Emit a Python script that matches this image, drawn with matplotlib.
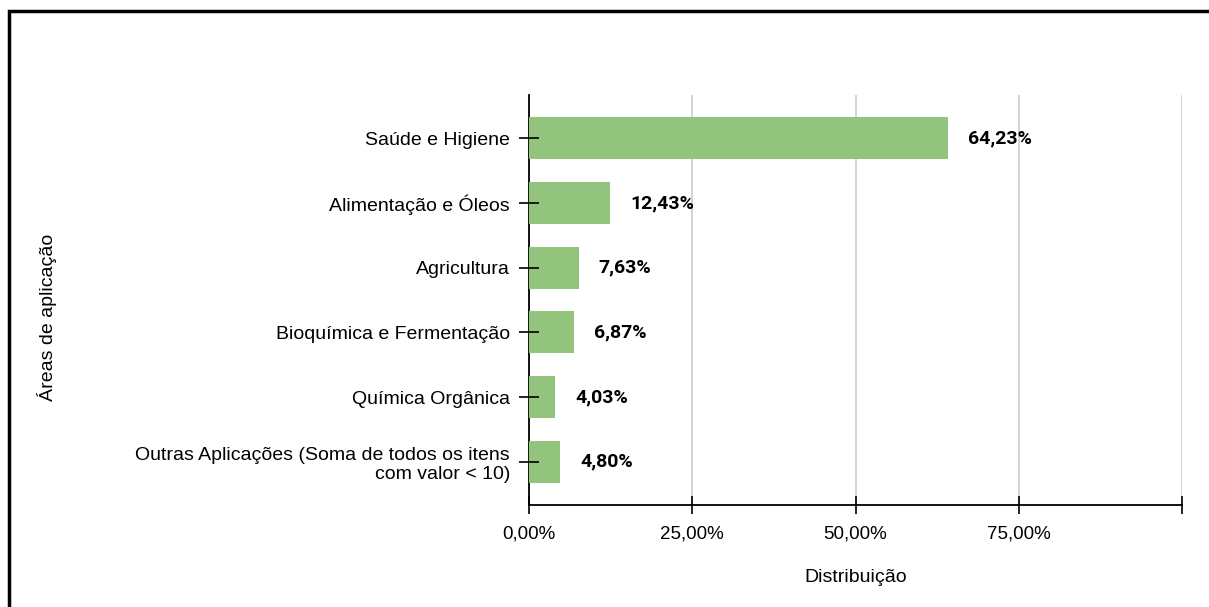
import matplotlib
matplotlib.use("Agg")
import matplotlib.pyplot as plt
from matplotlib.patches import Rectangle

categories = [
    "Saúde e Higiene",
    "Alimentação e Óleos",
    "Agricultura",
    "Bioquímica e Fermentação",
    "Química Orgânica",
    "Outras Aplicações (Soma de todos os itens\ncom valor < 10)",
]
values = [64.23, 12.43, 7.63, 6.87, 4.03, 4.80]
value_labels = ["64,23%", "12,43%", "7,63%", "6,87%", "4,03%", "4,80%"]
xticks = [0, 25, 50, 75, 100]
xtick_labels = ["0,00%", "25,00%", "50,00%", "75,00%", ""]

plt.rcParams['font.family'] = ['Liberation Sans', 'DejaVu Sans']

fig = plt.figure(figsize=(12.09, 6.07), dpi=100)
W, H = 1209, 607
ax = fig.add_axes([529 / W, 1 - 505 / H, (1182 - 529) / W, (505 - 95) / H])

ypos = list(range(len(categories)))
ax.barh(ypos, values, height=0.65, color="#93c47d", zorder=2)
ax.set_ylim(5.67, -0.67)
ax.set_xlim(0, 100)

ax.set_yticks(ypos)
ax.set_yticklabels(categories, fontsize=14, ha="right", multialignment="right")
ax.set_xticks(xticks)
ax.set_xticklabels(xtick_labels, fontsize=13.5)

ax.tick_params(axis="y", direction="inout", length=14.4, width=1.2, pad=6.5, color="black")
ax.tick_params(axis="x", direction="inout", length=13, width=1.2, pad=8, color="black")

ax.grid(axis="x", color="#cccccc", linewidth=1.2)
ax.set_axisbelow(True)
ax.xaxis.set_zorder(0.5)
ax.yaxis.set_zorder(3)
for s in ["top", "right"]:
    ax.spines[s].set_visible(False)
ax.spines["left"].set_linewidth(1.3)
ax.spines["bottom"].set_linewidth(1.3)
ax.spines["left"].set_zorder(1)

for y, v, lab in zip(ypos, values, value_labels):
    ax.annotate(lab, xy=(v, y), xytext=(20, 0), textcoords="offset pixels",
                va="center", ha="left", fontsize=14, fontweight="bold",
                family=["Roboto", "DejaVu Sans"], color="black")

ax.set_xlabel("Distribuição", fontsize=14, labelpad=19)
fig.text(47 / W, 1 - 317 / H, "Áreas de aplicação", rotation=90,
         ha="center", va="center", fontsize=14)

# outer border
fig.add_artist(Rectangle((9 / W, -0.1), 1.2, 1 - 11 / H + 0.1,
                         transform=fig.transFigure, fill=False,
                         edgecolor="black", linewidth=2.5))

fig.savefig("out.png", dpi=100)
